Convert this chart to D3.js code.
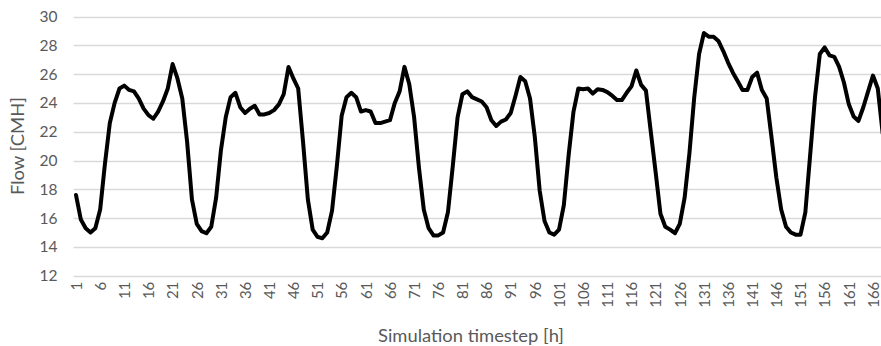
<!DOCTYPE html>
<html>
<head>
<meta charset="utf-8">
<script src="https://cdn.jsdelivr.net/npm/d3@7/dist/d3.min.js"></script>
<style>
  html, body { margin: 0; padding: 0; background: #fff; }
  svg { display: block; }
</style>
</head>
<body>
<script>
// ---- data ----
const flow = [
  17.6, 15.9, 15.3, 15.0, 15.3, 16.6, 19.8, 22.6, 24.0, 25.0,
  25.2, 24.9, 24.8, 24.3, 23.6, 23.15, 22.9, 23.4, 24.1, 25.0,
  26.7, 25.7, 24.3, 21.3, 17.3, 15.6, 15.1, 14.95, 15.4, 17.4,
  20.7, 23.0, 24.4, 24.7, 23.7, 23.3, 23.6, 23.8, 23.2, 23.2,
  23.3, 23.5, 23.9, 24.6, 26.5, 25.7, 25.0, 21.3, 17.3, 15.2,
  14.7, 14.6, 15.0, 16.5, 19.6, 23.1, 24.4, 24.7, 24.4, 23.4,
  23.5, 23.4, 22.6, 22.6, 22.7, 22.8, 24.0, 24.8, 26.5, 25.3,
  23.0, 19.5, 16.6, 15.3, 14.8, 14.8, 15.0, 16.4, 19.6, 23.0,
  24.6, 24.8, 24.4, 24.25, 24.1, 23.7, 22.8, 22.4, 22.7, 22.85,
  23.3, 24.5, 25.8, 25.5, 24.3, 21.6, 17.9, 15.8, 15.0, 14.85,
  15.2, 16.9, 20.4, 23.4, 25.0, 24.95, 25.0, 24.65, 24.95, 24.9,
  24.75, 24.5, 24.2, 24.2, 24.7, 25.15, 26.25, 25.25, 24.85, 22.0,
  19.2, 16.3, 15.4, 15.2, 14.95, 15.6, 17.4, 20.5, 24.4, 27.4,
  28.85, 28.6, 28.6, 28.3, 27.6, 26.8, 26.1, 25.5, 24.9, 24.9,
  25.8, 26.1, 24.9, 24.3, 21.6, 18.8, 16.6, 15.4, 15.0, 14.85,
  14.85, 16.4, 20.4, 24.4, 27.4, 27.85, 27.3, 27.2, 26.5, 25.4,
  23.9, 23.05, 22.75, 23.7, 24.8, 25.9, 25.0, 21.9
];
const timesteps = flow.map((_, i) => i + 1);
const xTickLabels = timesteps.filter(t => (t - 1) % 5 === 0);
const yTicks = [12, 14, 16, 18, 20, 22, 24, 26, 28, 30];
const yTitle = "Flow [CMH]";
const xTitle = "Simulation timestep [h]";

// ---- layout ----
const W = 881, H = 346;
const plotLeft = 73.6, plotTop = 16.5, plotBottom = 275.7;
const band = 4.83;
const plotRight = plotLeft + band * timesteps.length;
const font = "Lato, 'Open Sans', sans-serif";
const grey = "#595959";

const svg = d3.select("body").append("svg")
  .attr("width", W).attr("height", H);

const x = d3.scalePoint().domain(timesteps).range([plotLeft, plotRight]).padding(0.5);
const y = d3.scaleLinear().domain([12, 30]).range([plotBottom, plotTop]);

// gridlines
svg.append("g").selectAll("line").data(yTicks).join("line")
  .attr("x1", plotLeft).attr("x2", plotRight)
  .attr("y1", d => Math.round(y(d)) + 0.5).attr("y2", d => Math.round(y(d)) + 0.5)
  .attr("stroke", "#d9d9d9").attr("stroke-width", 1.3);

// y axis labels
const yAxis = d3.axisLeft(y).tickValues(yTicks).tickSize(0).tickPadding(0);
const gy = svg.append("g").attr("transform", `translate(${plotLeft - 16},0)`).call(yAxis);
gy.select(".domain").remove();
gy.selectAll("text").attr("font-family", font).attr("font-size", 15.5).attr("fill", grey);

// x axis labels
const xAxis = d3.axisBottom(x).tickValues(xTickLabels).tickSize(0).tickPadding(0);
const gx = svg.append("g").attr("transform", `translate(0,${plotBottom + 6})`).call(xAxis);
gx.select(".domain").remove();
gx.selectAll("text")
  .attr("font-family", font).attr("font-size", 15).attr("fill", grey)
  .attr("transform", "rotate(-90)")
  .attr("text-anchor", "end")
  .attr("x", 0).attr("y", 0).attr("dy", "0.35em");

// line
const line = d3.line().x((d, i) => x(timesteps[i])).y(d => y(d));
svg.append("path").datum(flow)
  .attr("d", line).attr("fill", "none")
  .attr("stroke", "#000").attr("stroke-width", 4)
  .attr("stroke-linejoin", "round").attr("stroke-linecap", "round");

// titles
svg.append("text").text(yTitle)
  .attr("transform", `translate(24,${(plotTop + plotBottom) / 2}) rotate(-90)`)
  .attr("text-anchor", "middle")
  .attr("font-family", font).attr("font-size", 17).attr("fill", grey)
  .attr("textLength", 98).attr("lengthAdjust", "spacingAndGlyphs");

svg.append("text").text(xTitle)
  .attr("x", 471).attr("y", 342)
  .attr("text-anchor", "middle")
  .attr("font-family", font).attr("font-size", 17).attr("fill", grey)
  .attr("textLength", 186).attr("lengthAdjust", "spacingAndGlyphs");
</script>
</body>
</html>
